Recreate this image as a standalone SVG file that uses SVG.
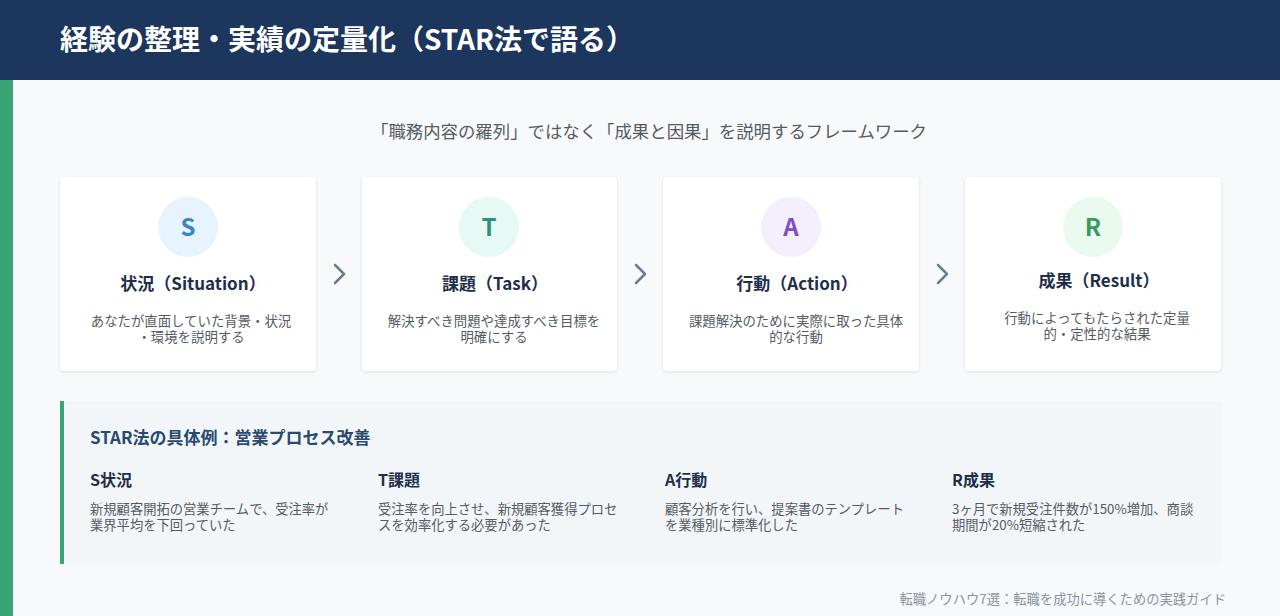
<svg xmlns="http://www.w3.org/2000/svg" width="1280" height="616" viewBox="0 0 1280 616">
<defs>
<filter id="sh" x="-10%" y="-10%" width="120%" height="130%">
<feDropShadow dx="0" dy="1" stdDeviation="1.5" flood-color="#1e365e" flood-opacity="0.12"/>
</filter>
<style>
text{font-family:"Noto Sans CJK JP","Noto Sans",sans-serif}
.card{fill:#ffffff;filter:url(#sh)}
.ct{font-size:17px;font-weight:700;fill:#1e2f4a;text-anchor:middle}
.cd{font-size:13.4px;fill:#555b63;text-anchor:middle}
.cl{font-size:24px;font-weight:700;text-anchor:middle}
.chev{fill:none;stroke:#6f7c8f;stroke-width:2.5;stroke-linecap:round;stroke-linejoin:round}
.eh{font-size:16px;font-weight:700;fill:#1e2f4a}
.ed{font-size:13.3px;fill:#555b63}
</style>
</defs>
<rect width="1280" height="616" fill="#f7f9fb"/>
<rect x="0" y="80" width="13" height="536" fill="#3aa574"/>
<g id="header">
<rect x="0" y="0" width="1280" height="80" fill="#1c365e"/>
<text x="60" y="50" font-size="28" font-weight="700" fill="#ffffff">経験の整理・実績の定量化（STAR法で語る）</text>
</g>
<text id="subtitle" x="649" y="138" font-size="17.4" fill="#555b63" text-anchor="middle">「職務内容の羅列」ではなく「成果と因果」を説明するフレームワーク</text>
<g id="card-s">
<rect class="card" x="60" y="177" width="256" height="194" rx="4"/>
<circle cx="188" cy="227" r="30" fill="#e8f4fd"/>
<text class="cl" x="188" y="236" fill="#3a85c4">S</text>
<text class="ct" x="193" y="290">状況（Situation）</text>
<text class="cd" x="191" y="326">あなたが直面していた背景・状況</text>
<text class="cd" x="191" y="342">・環境を説明する</text>
</g>
<g id="card-t">
<rect class="card" x="362" y="177" width="255" height="194" rx="4"/>
<circle cx="489" cy="227" r="30" fill="#e6f9f5"/>
<text class="cl" x="489" y="236" fill="#2f8f80">T</text>
<text class="ct" x="495" y="290">課題（Task）</text>
<text class="cd" x="494" y="326">解決すべき問題や達成すべき目標を</text>
<text class="cd" x="494" y="342">明確にする</text>
</g>
<g id="card-a">
<rect class="card" x="663" y="177" width="256" height="194" rx="4"/>
<circle cx="791" cy="227" r="30" fill="#f5eefc"/>
<text class="cl" x="791" y="236" fill="#7d4fc2">A</text>
<text class="ct" x="797" y="290">行動（Action）</text>
<text class="cd" x="796" y="326">課題解決のために実際に取った具体</text>
<text class="cd" x="796" y="342">的な行動</text>
</g>
<g id="card-r">
<rect class="card" x="965" y="177" width="256" height="194" rx="4"/>
<circle cx="1093" cy="227" r="30" fill="#eafaef"/>
<text class="cl" x="1093" y="236" fill="#3a9a63">R</text>
<text class="ct" x="1099" y="287">成果（Result）</text>
<text class="cd" x="1097" y="323">行動によってもたらされた定量</text>
<text class="cd" x="1097" y="339">的・定性的な結果</text>
</g>
<g id="connectors">
<path class="chev" d="M335,265 L344,274 L335,283"/>
<path class="chev" d="M636,265 L645,274 L636,283"/>
<path class="chev" d="M938,265 L947,274 L938,283"/>
</g>
<g id="example">
<rect x="60" y="401" width="1161" height="163" rx="4" fill="#f3f6f9"/>
<rect x="60" y="401" width="4" height="163" fill="#3aa574"/>
<text x="90" y="444" font-size="17" font-weight="700" fill="#2a4a70">STAR法の具体例：営業プロセス改善</text>
<text class="eh" x="90" y="486">S状況</text>
<text class="ed" x="90" y="514">新規顧客開拓の営業チームで、受注率が</text>
<text class="ed" x="90" y="530">業界平均を下回っていた</text>
<text class="eh" x="378" y="486">T課題</text>
<text class="ed" x="378" y="514">受注率を向上させ、新規顧客獲得プロセ</text>
<text class="ed" x="378" y="530">スを効率化する必要があった</text>
<text class="eh" x="665" y="486">A行動</text>
<text class="ed" x="665" y="514">顧客分析を行い、提案書のテンプレート</text>
<text class="ed" x="665" y="530">を業種別に標準化した</text>
<text class="eh" x="952" y="486">R成果</text>
<text class="ed" x="952" y="514">3ヶ月で新規受注件数が150%増加、商談</text>
<text class="ed" x="952" y="530">期間が20%短縮された</text>
</g>
<text id="footer" x="1226" y="604" font-size="13.3" fill="#8a93a0" text-anchor="end">転職ノウハウ7選：転職を成功に導くための実践ガイド</text>
</svg>
